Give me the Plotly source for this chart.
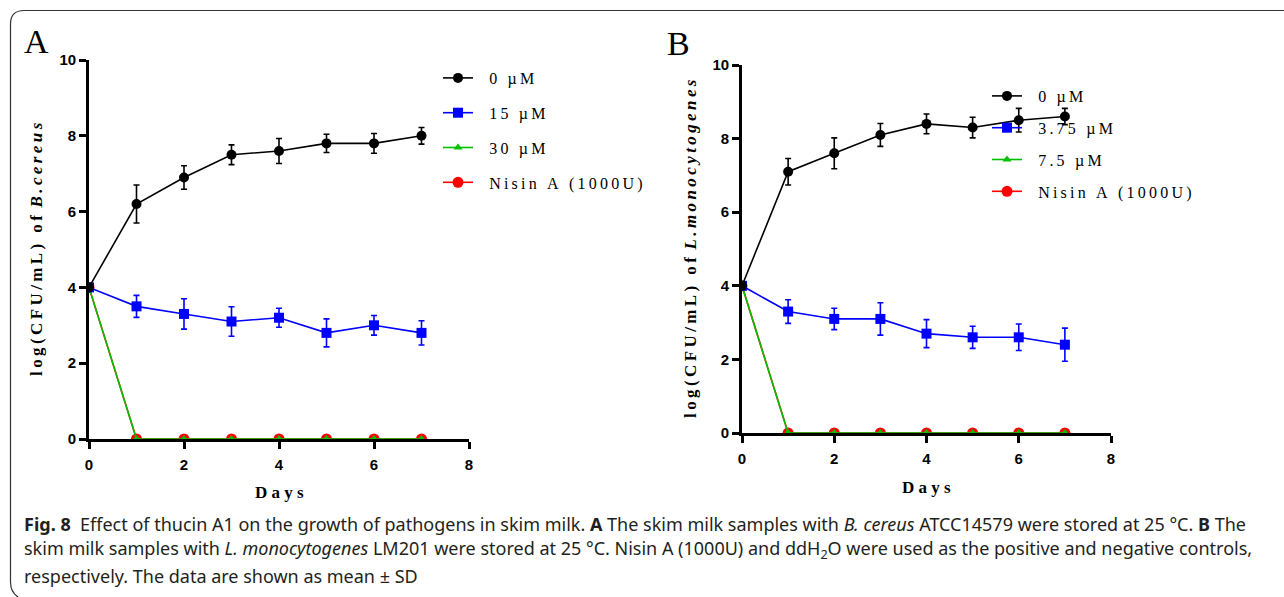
import plotly.graph_objects as go

W, H = 1284, 597

# ---- data ----
days = [0, 1, 2, 3, 4, 5, 6, 7]

# Panel A: B. cereus
a_labels = ["0 µM", "15 µM", "30 µM", "Nisin A (1000U)"]
a_ctrl = [4.0, 6.2, 6.9, 7.5, 7.6, 7.8, 7.8, 8.0]
a_ctrl_sd = [0, 0.5, 0.31, 0.26, 0.33, 0.24, 0.26, 0.22]
a_low = [4.0, 3.5, 3.3, 3.1, 3.2, 2.8, 3.0, 2.8]
a_low_sd = [0, 0.29, 0.4, 0.39, 0.25, 0.37, 0.26, 0.32]
a_high = [4.0, 0, 0, 0, 0, 0, 0, 0]
a_nisin = [4.0, 0, 0, 0, 0, 0, 0, 0]

# Panel B: L. monocytogenes
b_labels = ["0 µM", "3.75 µM", "7.5 µM", "Nisin A (1000U)"]
b_ctrl = [4.0, 7.1, 7.6, 8.1, 8.4, 8.3, 8.5, 8.6]
b_ctrl_sd = [0, 0.36, 0.42, 0.31, 0.27, 0.28, 0.32, 0.22]
b_low = [4.0, 3.3, 3.1, 3.1, 2.7, 2.6, 2.6, 2.4]
b_low_sd = [0, 0.32, 0.29, 0.44, 0.38, 0.3, 0.36, 0.45]
b_high = [4.0, 0, 0, 0, 0, 0, 0, 0]
b_nisin = [4.0, 0, 0, 0, 0, 0, 0, 0]

x_ticks = [0, 2, 4, 6, 8]
y_ticks = [0, 2, 4, 6, 8, 10]

SERIF = "Liberation Serif"
SANS = "Liberation Sans"
CAP = "Noto Sans"

BLACK, BLUE, GREEN, RED = "#000000", "#0000ff", "#00c000", "#ff0000"


def tracked(s, sp="\u2009"):
    return sp.join(s)


def px(x):
    return x / W


def py(y):
    return 1 - y / H


fig = go.Figure()


def add_panel(xa, ya, leg, labels, ctrl, ctrl_sd, low, low_sd, high, nisin):
    # drawn bottom-up: positive control first, untreated control on top;
    # legendrank keeps the legend in the 0 µM -> Nisin A order
    specs = [
        (labels[3], nisin, None, RED, "circle", 11, 4),
        (labels[2], high, None, GREEN, "triangle-up", 8, 3),
        (labels[1], low, low_sd, BLUE, "square", 10, 2),
        (labels[0], ctrl, ctrl_sd, BLACK, "circle", 10, 1),
    ]
    for name, ys, sd, col, sym, size, rank in specs:
        err = None
        if sd is not None:
            err = dict(type="data", array=sd, visible=True, color=col,
                       thickness=1.6, width=3)
        fig.add_trace(go.Scatter(
            x=days, y=ys, name="\u2002\u2009" + tracked(name), mode="lines+markers",
            line=dict(color=col, width=1.6),
            marker=dict(color=col, symbol=sym, size=size, line=dict(width=0)),
            error_y=err, xaxis=xa, yaxis=ya, legend=leg,
            legendgroup=f"{leg}_{rank}", legendrank=rank,
        ))


add_panel("x", "y", "legend", a_labels, a_ctrl, a_ctrl_sd, a_low, a_low_sd,
          a_high, a_nisin)
add_panel("x2", "y2", "legend2", b_labels, b_ctrl, b_ctrl_sd, b_low, b_low_sd,
          b_high, b_nisin)

axis_common = dict(
    showline=True, linecolor="black", linewidth=2.6, mirror=False,
    ticks="outside", ticklen=7, tickwidth=2.6, tickcolor="black",
    showgrid=False, zeroline=False, automargin=False, layer="below traces",
    tickfont=dict(family=SANS, size=15, color="black", weight="bold"),
)

fig.update_layout(
    xaxis=dict(domain=[px(89), px(469)], range=[0, 8], tickvals=x_ticks,
               anchor="y", ticklabelstandoff=3, **axis_common),
    yaxis=dict(domain=[py(439), py(60)], range=[0, 10], tickvals=y_ticks,
               anchor="x", **axis_common),
    xaxis2=dict(domain=[px(742), px(1111)], range=[0, 8], tickvals=x_ticks,
                anchor="y2", ticklabelstandoff=3, **axis_common),
    yaxis2=dict(domain=[py(433), py(65)], range=[0, 10], tickvals=y_ticks,
                anchor="x2", **axis_common),
)

legend_common = dict(
    xanchor="left", yanchor="top", bgcolor="rgba(0,0,0,0)", borderwidth=0,
    traceorder="grouped", itemwidth=30,
    font=dict(family=SERIF, size=16, color="black"),
)
fig.update_layout(
    legend=dict(x=px(438), y=py(61), tracegroupgap=11, **legend_common),
    legend2=dict(x=px(987), y=py(79), tracegroupgap=8, **legend_common),
)

annotations = []
# panel letters
letter_font = dict(family=SERIF, size=34, color="black")
for letter, lx, ly in [("A", 36, 42), ("B", 678, 44)]:
    annotations.append(dict(text=letter, x=px(lx), y=py(ly), xref="paper", yref="paper",
                            xanchor="center", yanchor="middle", showarrow=False,
                            font=letter_font))

# axis titles
title_font = dict(family=SERIF, size=17, color="black")
for species, tx in [("B.cereus", 37), ("L.monocytogenes", 691)]:
    annotations.append(dict(
        text="<b>" + tracked("log(CFU/mL) of ") + "<i>" + tracked(species) + "</i></b>",
        x=px(tx), y=py(249), xref="paper", yref="paper", textangle=-90,
        xanchor="center", yanchor="middle", showarrow=False, font=title_font))
for tx, ty in [(279, 493), (926, 487)]:
    annotations.append(dict(text="<b>" + tracked("Days", " ") + "</b>", x=px(tx), y=py(ty),
                            xref="paper", yref="paper", xanchor="center", yanchor="middle",
                            showarrow=False, font=dict(family=SERIF, size=17, color="black")))

# caption
caption = [
    "<b>Fig. 8</b>  Effect of thucin A1 on the growth of pathogens in skim milk. <b>A</b> The skim milk samples with <i>B. cereus</i> ATCC14579 were stored at 25 °C. <b>B</b> The",
    "skim milk samples with <i>L. monocytogenes</i> LM201 were stored at 25 °C. Nisin A (1000U) and ddH<sub>2</sub>O were used as the positive and negative controls,",
    "respectively. The data are shown as mean ± SD",
]
for line, yc in zip(caption, [524, 549, 576]):
    annotations.append(dict(text=line, x=px(22), y=py(yc), xref="paper", yref="paper",
                            xanchor="left", yanchor="middle", showarrow=False,
                            font=dict(family=CAP, size=18, color="#231f20")))

fig.update_layout(annotations=annotations)

# figure frame: top and left edges with rounded corners
path = (f"M {px(W)},{py(10.5)} L {px(24)},{py(10.5)} "
        f"Q {px(10.5)},{py(10.5)} {px(10.5)},{py(24)} "
        f"L {px(10.5)},{py(582)} Q {px(10.5)},{py(592)} {px(18)},{py(597)}")
fig.add_shape(type="path", path=path, xref="paper", yref="paper",
              line=dict(color="#333333", width=1.2))

fig.update_layout(
    width=W, height=H, margin=dict(l=0, r=0, t=0, b=0, autoexpand=False),
    paper_bgcolor="white", plot_bgcolor="white", showlegend=True,
)

fig.write_html("out.html")
